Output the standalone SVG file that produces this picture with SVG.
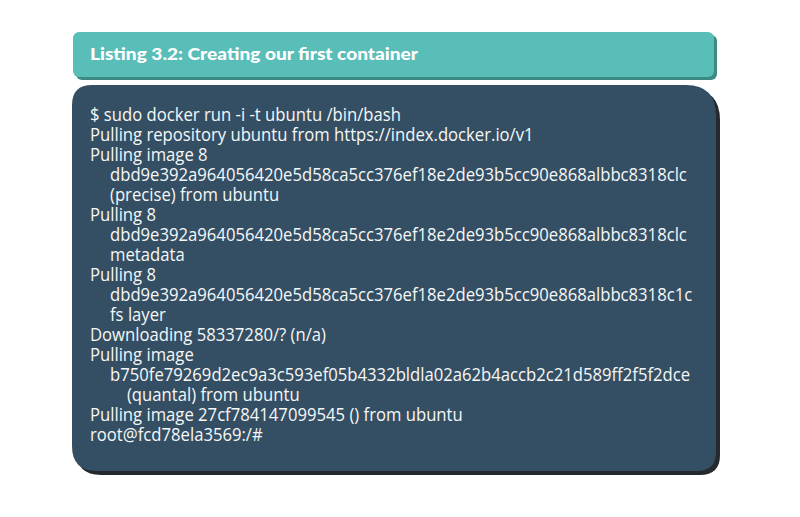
<svg xmlns="http://www.w3.org/2000/svg" width="800" height="517" viewBox="0 0 800 517">
<style>
.mono{font-family:"Open Sans","Noto Sans",sans-serif;font-size:19px;fill:#f6f7f8;}
.title{font-family:"Lato","Inter",sans-serif;font-weight:900;font-size:16px;fill:#ffffff;}
</style>
<rect width="800" height="517" fill="#ffffff"/>
<g id="header">
<rect x="76" y="35" width="641" height="45" rx="6" fill="#3d8a84"/>
<rect x="73" y="32" width="641" height="45" rx="6" fill="#59bdb8"/>
<text class="title" x="90" y="60" textLength="328" lengthAdjust="spacingAndGlyphs">Listing 3.2: Creating our first container</text>
</g>
<g id="console">
<path d="M94 89 H689 Q720 89 720 120 V455 Q720 475 700 475 H101 Q76 475 76 450 V109 Q76 89 94 89 Z" fill="#262a2e"/>
<path d="M92 85 H686 Q716 85 716 116 V452 Q716 471 697 471 H97 Q72 471 72 446 V105 Q72 85 92 85 Z" fill="#344f63"/>
<g transform="scale(0.878,1)">
<text class="mono" x="102.5" y="121">$ sudo docker run -i -t ubuntu /bin/bash</text>
<text class="mono" x="102.5" y="141">Pulling repository ubuntu from https://index.docker.io/v1</text>
<text class="mono" x="102.5" y="161">Pulling image 8</text>
<text class="mono" x="125.3" y="181">dbd9e392a964056420e5d58ca5cc376ef18e2de93b5cc90e868albbc8318clc</text>
<text class="mono" x="125.3" y="201">(precise) from ubuntu</text>
<text class="mono" x="102.5" y="221">Pulling 8</text>
<text class="mono" x="125.3" y="241">dbd9e392a964056420e5d58ca5cc376ef18e2de93b5cc90e868albbc8318clc</text>
<text class="mono" x="125.3" y="261">metadata</text>
<text class="mono" x="102.5" y="281">Pulling 8</text>
<text class="mono" x="125.3" y="301">dbd9e392a964056420e5d58ca5cc376ef18e2de93b5cc90e868albbc8318c1c</text>
<text class="mono" x="125.3" y="321">fs layer</text>
<text class="mono" x="102.5" y="341">Downloading 58337280/? (n/a)</text>
<text class="mono" x="102.5" y="361">Pulling image</text>
<text class="mono" x="125.3" y="381">b750fe79269d2ec9a3c593ef05b4332bldla02a62b4accb2c21d589ff2f5f2dce</text>
<text class="mono" x="144.6" y="401">(quantal) from ubuntu</text>
<text class="mono" x="102.5" y="421">Pulling image 27cf784147099545 () from ubuntu</text>
<text class="mono" x="102.5" y="441">root@fcd78ela3569:/#</text>
</g>
</g>
</svg>
